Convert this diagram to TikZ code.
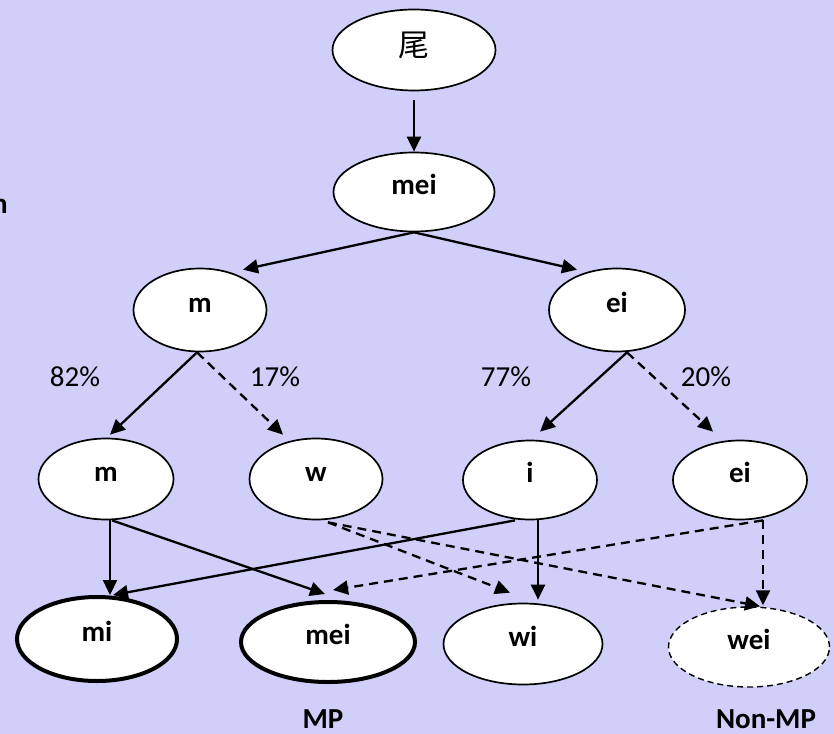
\documentclass[tikz,border=0pt]{standalone}
\usepackage{fontspec}
\setmainfont{Carlito}
\newfontfamily\cjkfont{Noto Sans CJK SC}
\usetikzlibrary{shapes.geometric,arrows.meta,calc}
\definecolor{slide}{RGB}{207,207,249}

\begin{document}
\begin{tikzpicture}[x=1bp,y=-1bp,
  txt/.style={font=\fontsize{29bp}{34bp}\selectfont, inner sep=0pt},
  oval/.style={ellipse, draw=black, line width=1.7bp, fill=white, inner sep=0pt,
    text height=11bp, text depth=7bp,
    font=\fontsize{29bp}{34bp}\selectfont\bfseries},
  bold oval/.style={oval, line width=4bp},
  dashed oval/.style={oval, dash pattern=on 6bp off 4bp, line width=1.4bp},
  arr/.style={line width=2.3bp, -{Triangle[length=15bp,width=14bp]}},
  darr/.style={arr, dash pattern=on 9bp off 6bp},
]
\useasboundingbox (0,0) rectangle (834,734);
\fill[slide] (0,0) rectangle (834,734);

% word fragment at the left edge
\node[txt, font=\fontsize{29bp}{34bp}\selectfont\bfseries, anchor=base east] (frag) at (8,213) {n};

% character and its reading
\node[oval, minimum width=163bp, minimum height=81bp, text height=20bp, text depth=6bp,
      font=\fontsize{31bp}{36bp}\selectfont\cjkfont] (top) at (414,50) {尾};
\node[oval, minimum width=161bp, minimum height=79bp] (mei1) at (414,192) {mei};

% onset / rhyme
\node[oval, minimum width=133bp, minimum height=83bp] (m2) at (200,310) {m};
\node[oval, minimum width=136bp, minimum height=83bp] (ei2) at (617,310) {ei};

% variants
\node[oval, minimum width=135bp, minimum height=81bp] (m3) at (106,479) {m};
\node[oval, minimum width=133bp, minimum height=81bp] (w) at (316,479) {w};
\node[oval, minimum width=134bp, minimum height=79bp] (i) at (530,480) {i};
\node[oval, minimum width=134bp, minimum height=79bp] (ei3) at (740,480) {ei};

% outcomes
\node[bold oval, minimum width=160bp, minimum height=84bp] (mi) at (97,639) {mi};
\node[bold oval, minimum width=174bp, minimum height=80bp] (mei4) at (328,642) {mei};
\node[oval, minimum width=159bp, minimum height=81bp] (wi) at (523,644) {wi};
\node[dashed oval, minimum width=161bp, minimum height=80bp] (wei) at (749,647) {wei};

% percentages
\node[txt, anchor=base] (p82) at (75,386) {82\%};
\node[txt, anchor=base] (p17) at (275,386) {17\%};
\node[txt, anchor=base] (p77) at (506,386) {77\%};
\node[txt, anchor=base] (p20) at (706,386) {20\%};

% group captions
\node[txt, font=\fontsize{29bp}{34bp}\selectfont\bfseries, anchor=base] (mp) at (323,728) {MP};
\node[txt, font=\fontsize{29bp}{34bp}\selectfont\bfseries, anchor=base] (nonmp) at (766,728) {Non-MP};

% connectors
\draw[arr] ($(top.south)+(0,9)$) -- (mei1.north);
\draw[arr] (mei1.south) -- ($(m2.north)+(43,2)$);
\draw[arr] (mei1.south) -- ($(ei2.north)+(-40,2)$);

\draw[arr]  ($(m2.south)+(-3,0)$) -- ($(m3.north)+(4,-3)$);
\draw[darr] ($(m2.south)+(-3,0)$) -- ($(w.north)+(-33,-3)$);
\draw[arr]  ($(ei2.south)+(10,0)$) -- ($(i.north)+(10,-8)$);
\draw[darr] ($(ei2.south)+(10,0)$) -- ($(ei3.north)+(-27,-8)$);

\draw[arr] ($(m3.south)+(4,0)$) -- ($(mi.north)+(13,0)$);
\draw[arr] ($(m3.south)+(6,0)$) -- ($(mei4.north)+(-3,-6)$);
\draw[arr] ($(i.south)+(-15,0)$) -- ($(mi.north)+(16,0)$);
\draw[arr] ($(i.south)+(8,0)$) -- ($(wi.north)+(15,-3)$);
\draw[darr] ($(w.south)+(12,2)$) -- ($(wi.north)+(-13,-10)$);
\draw[darr] ($(w.south)+(12,2)$) -- ($(wei.north)+(11,0)$);
\draw[darr] ($(ei3.south)+(23,0)$) -- ($(wei.north)+(14,-1)$);
\draw[darr] ($(ei3.south)+(23,0)$) -- ($(mei4.north)+(5,-10)$);
\end{tikzpicture}
\end{document}
